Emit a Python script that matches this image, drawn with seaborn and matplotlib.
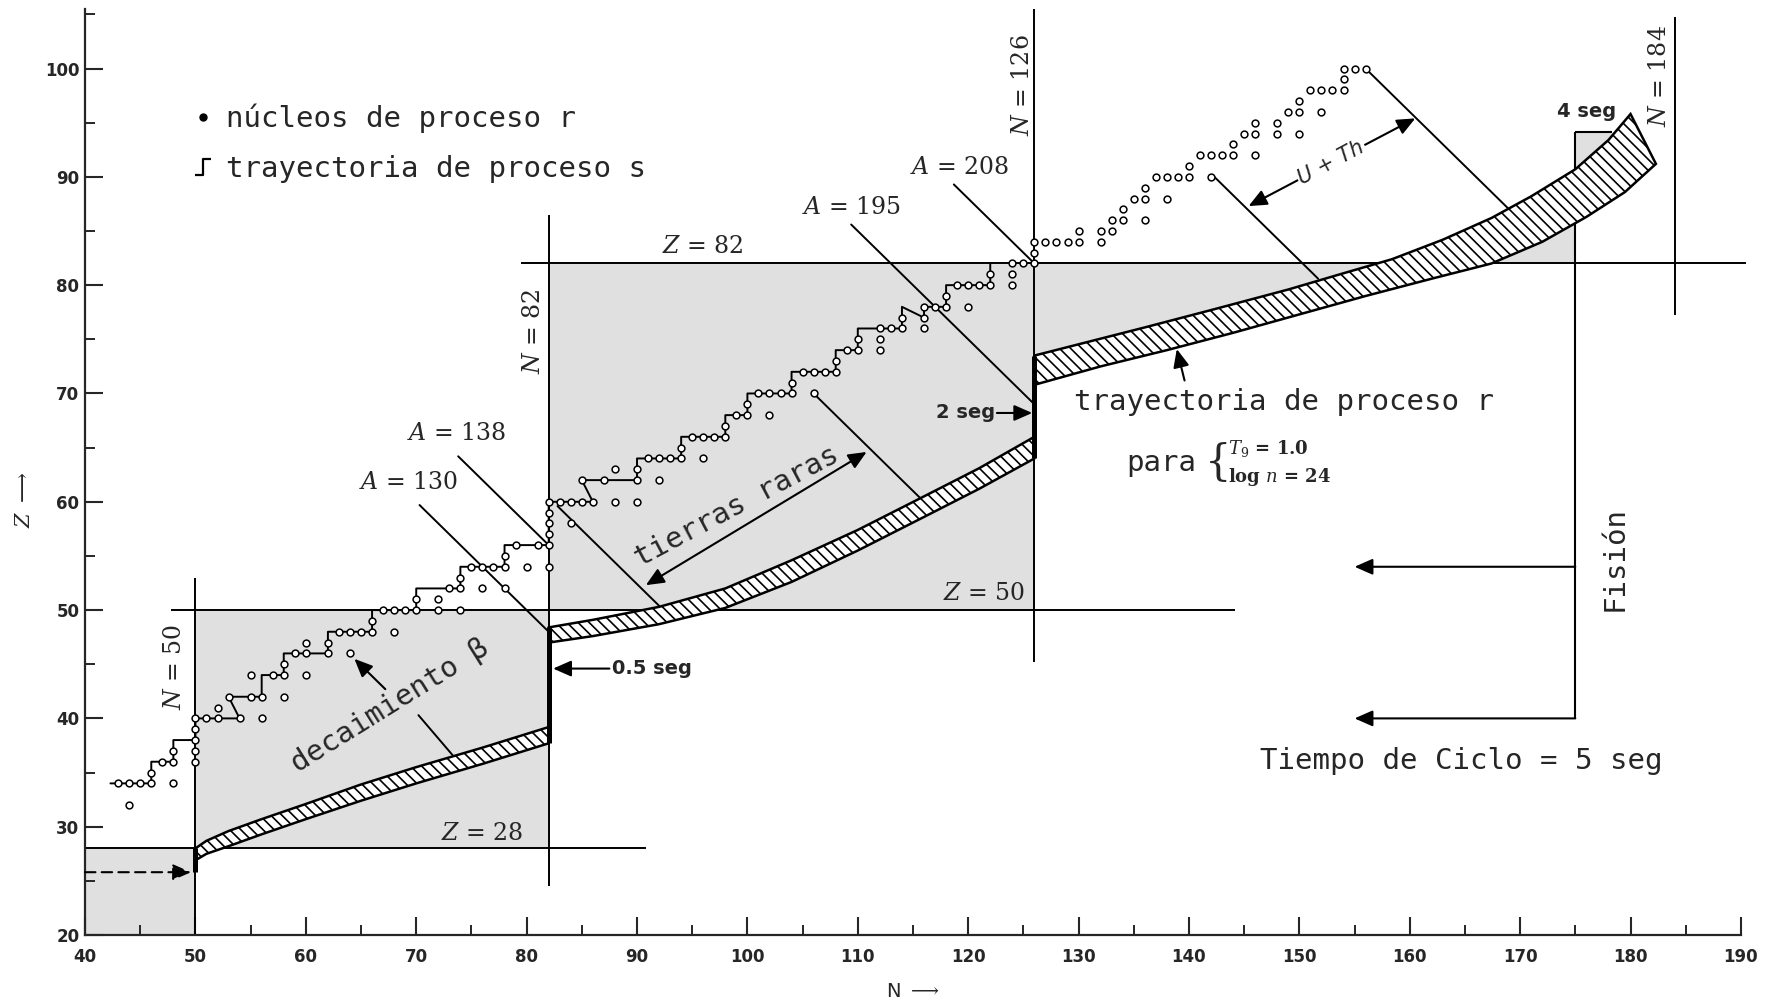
import matplotlib
matplotlib.use("Agg")
import matplotlib.pyplot as plt
from matplotlib.lines import Line2D
from matplotlib.path import Path
import seaborn as sns
import numpy as np

# --- magic-number lines (N, Z) ---
magic_z = [28, 50, 82]
magic_z_from = [40, 47.8, 79.5]
magic_z_to = [90.8, 144.2, 190.5]
magic_n = [50, 82, 126, 184]
magic_n_from = [20, 24.5, 45.2, 77.2]
magic_n_to = [53, 86.5, 105.5, 104.8]

# gray boxes
box_n0 = [40, 50, 82]
box_n1 = [50, 82, 126]
box_z0 = [20, 28, 50]
box_z1 = [28, 50, 82]

# s-process path (vertices) and nuclei on it
s_path_n = [42.3, 46, 46, 48, 48, 50, 50, 54, 53, 56, 56, 58, 58, 62, 62, 66, 66, 70, 70, 74,
            74, 78, 78, 82, 82, 86, 85, 90, 90, 94, 94, 98, 98, 100, 100, 104, 104, 108, 108, 110,
            110, 114, 114, 116, 116, 118, 118, 122, 122]
s_path_z = [34, 34, 36, 36, 38, 38, 40, 40, 42, 42, 44, 44, 46, 46, 48, 48, 50, 50, 52, 52,
            54, 54, 56, 56, 60, 60, 62, 62, 64, 64, 66, 66, 68, 68, 70, 70, 72, 72, 74, 74,
            76, 76, 78, 77, 78, 78, 80, 80, 82]
s_node_n = [43, 44, 45, 46, 46, 47, 48, 48, 50, 50, 50, 51, 52, 54, 53, 55, 56, 57, 58, 58,
            59, 60, 62, 62, 63, 64, 65, 66, 66, 67, 68, 69, 70, 70, 73, 74, 74, 75, 76, 77,
            78, 78, 79, 81, 82, 82, 82, 82, 82, 83, 84, 85, 86, 85, 87, 90, 90, 91, 92, 93,
            94, 94, 95, 96, 97, 98, 98, 99, 100, 100, 101, 102, 103, 104, 104, 105, 106, 107, 108, 108,
            109, 110, 110, 112, 113, 114, 114, 116, 116, 117, 118, 118, 119, 120, 121, 122, 122]
s_node_z = [34, 34, 34, 34, 35, 36, 36, 37, 38, 39, 40, 40, 40, 40, 42, 42, 42, 44, 44, 45,
            46, 46, 46, 47, 48, 48, 48, 48, 49, 50, 50, 50, 50, 51, 52, 52, 53, 54, 54, 54,
            54, 55, 56, 56, 56, 57, 58, 59, 60, 60, 60, 60, 60, 62, 62, 62, 63, 64, 64, 64,
            64, 65, 66, 66, 66, 66, 67, 68, 68, 69, 70, 70, 70, 70, 71, 72, 72, 72, 72, 73,
            74, 74, 75, 76, 76, 76, 77, 77, 78, 78, 78, 79, 80, 80, 80, 80, 81]

# r-process nuclei
r_n = [44, 48, 50, 50, 52, 56, 55, 58, 60, 60, 64, 68, 72, 72, 74, 76, 78, 80, 82, 84,
       88, 88, 90, 92, 96, 102, 106, 112, 112, 116, 120, 124, 124, 124, 125, 126, 126,
       126, 127, 128, 129, 130, 130, 132, 132, 133, 133, 134, 134, 135, 136, 136, 136, 137, 138,
       139, 140, 140, 138, 141, 142, 143, 144, 144, 145, 146, 146, 146, 148, 148, 149, 150, 150,
       150, 152, 151, 152, 153, 154, 154, 154, 155, 156, 142]
r_z = [32, 34, 36, 37, 41, 40, 44, 42, 44, 47, 46, 48, 50, 51, 50, 52, 52, 54, 54, 58,
       60, 63, 60, 62, 64, 68, 70, 74, 75, 76, 78, 80, 81, 82, 82, 82, 83,
       84, 84, 84, 84, 84, 85, 84, 85, 85, 86, 86, 87, 88, 88, 89, 86, 90, 90,
       90, 90, 91, 88, 92, 92, 92, 92, 93, 94, 94, 95, 92, 95, 94, 96, 96, 97,
       94, 96, 98, 98, 98, 98, 99, 100, 100, 100, 90]

# r-process path bands (upper / lower edges)
band1_n = [50, 51, 53, 56, 60, 65, 70, 76, 82]
band1_top = [28.0, 28.7, 29.6, 30.7, 32.1, 33.9, 35.5, 37.3, 39.2]
band1_bot = [26.9, 27.5, 28.2, 29.3, 30.7, 32.4, 34.0, 35.8, 37.7]
band2_n = [82, 86, 92, 98, 104, 110, 116, 121, 126]
band2_top = [48.4, 49.1, 50.3, 52.0, 54.6, 57.4, 60.5, 63.1, 66.0]
band2_bot = [47.0, 47.6, 48.7, 50.2, 52.6, 55.5, 58.6, 61.2, 64.0]
band3_top_n = [126, 131, 136, 142, 149, 154, 158.4, 163, 167.4, 171, 175, 178, 180]
band3_top = [73.5, 74.8, 76.1, 77.7, 79.6, 81.1, 82.4, 84.2, 86.2, 88.2, 90.7, 93.4, 95.8]
band3_bot_n = [126, 132, 138, 144, 150, 156, 162, 167.4, 172, 176, 179.5, 182.3]
band3_bot = [70.8, 72.5, 74.0, 75.6, 77.3, 79.0, 80.6, 82.0, 84.0, 86.3, 88.6, 91.2]

# waiting-point jumps
conn_n = [50, 82, 126]
conn_z0 = [25.8, 37.7, 64.0]
conn_z1 = [28.0, 48.4, 73.5]

# constant-A leader lines
lead_a = [130, 138, 195, 208, 142.4, 176, 232.3, 256]
lead_n0 = [70.3, 73.8, 109.4, 118.7, 82.8, 106, 142.2, 156]
lead_n1 = [82, 82, 126, 126, 92, 115.7, 151.7, 169.2]

# fission cycle
fis_n = 175
fis_z0, fis_z1 = 40, 94.1
fis_box_n = 178.3
fis_arrow_z = [54, 40]
fis_arrow_to = 155

sns.set_style("ticks")
plt.rcParams['font.family'] = ['DejaVu Sans']
plt.rcParams['mathtext.fontset'] = 'dejavuserif'
plt.rcParams['hatch.linewidth'] = 1.2

GRAY = '#e0e0e0'
MONO = 'DejaVu Sans Mono'
SERIF = 'DejaVu Serif'
HATCH = '\\\\\\'

fig = plt.figure(figsize=(17.83, 10.08), dpi=100)
ax = fig.add_axes([0.0477, 0.0724, 0.9287, 0.9187])
ax.set_xlim(40, 190)
ax.set_ylim(20, 105.5)

# gray regions
for n0, n1, z0, z1 in zip(box_n0, box_n1, box_z0, box_z1):
    ax.fill_between([n0, n1], z0, z1, color=GRAY, lw=0, zorder=0)
nn = np.linspace(126, fis_n, 400)
top_i = np.interp(nn, band3_top_n, band3_top)
bot_i = np.interp(nn, band3_bot_n, band3_bot)
ax.fill_between(nn, np.minimum(top_i, 82), np.maximum(bot_i, 82), color=GRAY, lw=0, zorder=0)
nn2 = np.linspace(fis_n, fis_box_n, 60)
top2 = np.interp(nn2, band3_top_n, band3_top)
ax.fill_between(nn2, np.minimum(top2, fis_z1), fis_z1, color=GRAY, lw=0, zorder=0)

# magic lines
ax.hlines(magic_z, magic_z_from, magic_z_to, color='k', lw=1.4, zorder=2, clip_on=False)
ax.vlines(magic_n, magic_n_from, magic_n_to, color='k', lw=1.4, zorder=2, clip_on=False)

# leader lines of constant A
for a, n0, n1 in zip(lead_a, lead_n0, lead_n1):
    ax.plot([n0, n1], [a - n0, a - n1], color='k', lw=1.4, zorder=2)

# r-process bands
def draw_band(tn, tz, bn, bz):
    xs = list(tn) + list(bn)[::-1]
    ys = list(tz) + list(bz)[::-1]
    ax.fill(xs, ys, facecolor='white', edgecolor='black', hatch=HATCH, lw=1.8, zorder=3)

draw_band(band1_n, band1_top, band1_n, band1_bot)
draw_band(band2_n, band2_top, band2_n, band2_bot)
draw_band(band3_top_n, band3_top, band3_bot_n, band3_bot)
ax.vlines(conn_n, conn_z0, conn_z1, color='k', lw=3.6, zorder=4)

# fission cycle
ax.vlines(fis_n, fis_z0, fis_z1, color='k', lw=1.5, zorder=2)
ax.hlines(fis_z1, fis_n, fis_box_n, color='k', lw=1.5, zorder=2)
head = '-|>,head_length=0.5,head_width=0.22'
for z in fis_arrow_z:
    ax.annotate('', xy=(fis_arrow_to, z), xytext=(fis_n, z),
                arrowprops=dict(arrowstyle=head, color='k', lw=1.5, mutation_scale=22,
                                shrinkA=0, shrinkB=0))

# s-process path and nuclei
sns.lineplot(x=s_path_n, y=s_path_z, sort=False, estimator=None, color='k', lw=1.4,
             ax=ax, zorder=5)
sns.scatterplot(x=s_node_n, y=s_node_z, marker='o', s=24, facecolor='white',
                edgecolor='k', linewidth=1.1, ax=ax, zorder=6)
sns.scatterplot(x=r_n, y=r_z, marker='o', s=24, facecolor='white',
                edgecolor='k', linewidth=1.1, ax=ax, zorder=6)

# arrows
def arrow(p0, p1, style=head, ls='-', ms=22):
    ax.annotate('', xy=p1, xytext=p0,
                arrowprops=dict(arrowstyle=style, color='k', lw=1.5, mutation_scale=ms,
                                shrinkA=0, shrinkB=0, linestyle=ls), zorder=7)

arrow((40, 25.8), (49.6, 25.8), ls=(0, (5, 3)))
arrow((87.5, 44.6), (82.4, 44.6))
arrow((122.6, 68.2), (125.8, 68.2))
arrow((67.2, 42.7), (64.4, 45.5))
arrow((139.6, 71.2), (138.9, 74.1))
dbl = '<|-|>,head_length=0.5,head_width=0.22'
arrow((90.8, 52.3), (110.8, 64.6), style=dbl)
arrow((145.4, 87.3), (160.5, 95.4), style=dbl)
ax.plot([70.2, 73.3], [40.3, 36.6], color='k', lw=1.4, zorder=2)

# labels
def serif(n, z, s, rot=0, ha='center', va='center', size=17):
    ax.text(n, z, s, family=SERIF, fontsize=size, rotation=rot, ha=ha, va=va, zorder=8)

serif(76, 28.3, r'$Z$ = 28', va='bottom')
serif(121.4, 50.5, r'$Z$ = 50', va='bottom')
serif(96, 82.5, r'$Z$ = 82', va='bottom')
serif(48.1, 44.8, r'$N$ = 50', rot=90)
serif(80.6, 75.8, r'$N$ = 82', rot=90)
serif(124.9, 98.5, r'$N$ = 126', rot=90)
serif(182.6, 99.3, r'$N$ = 184', rot=90)
serif(119.2, 90.9, r'$A$ = 208')
serif(109.4, 87.2, r'$A$ = 195')
serif(73.6, 66.3, r'$A$ = 138')
serif(69.3, 61.8, r'$A$ = 130')

bold = dict(fontsize=14, fontweight='bold', va='center', zorder=8)
ax.text(122.4, 68.2, '2 seg', ha='right', **bold)
ax.text(87.7, 44.6, '0.5 seg', ha='left', **bold)
ax.text(176, 96.0, '4 seg', ha='center', **bold)

mono = dict(family=MONO, fontsize=21, zorder=8)
ax.text(129.6, 69.2, 'trayectoria de proceso r', ha='left', va='center', **mono)
ax.text(134.3, 63.6, 'para', ha='left', va='center', **mono)
ax.text(141.4, 63.6, '{', ha='left', va='center', family=SERIF, fontsize=30, zorder=8)
ax.text(143.5, 64.9, r'$T_9$ = 1.0', ha='left', va='center', family=SERIF, fontsize=13,
        fontweight='bold', zorder=8)
ax.text(143.5, 62.3, r'log $n$ = 24', ha='left', va='center', family=SERIF, fontsize=13,
        fontweight='bold', zorder=8)
ax.text(146.4, 36.1, 'Tiempo de Ciclo = 5 seg', ha='left', va='center', **mono)
ax.text(178.6, 54.8, 'Fisión', rotation=90, ha='center', va='center', **mono)
ax.text(67.6, 41.2, 'decaimiento β', rotation=32, ha='center', va='center',
        rotation_mode='anchor', **mono)
ax.text(99.0, 59.6, 'tierras raras', rotation=28, ha='center', va='center',
        rotation_mode='anchor', **mono)
ax.text(152.9, 91.3, 'U + Th', rotation=28, ha='center', va='center', style='italic',
        fontsize=15, rotation_mode='anchor', zorder=9,
        bbox=dict(fc='white', ec='none', pad=1))

# legend
step = Path([(-0.5, -0.5), (0, -0.5), (0, 0.5), (0.5, 0.5)],
            [Path.MOVETO, Path.LINETO, Path.LINETO, Path.LINETO])
h1 = Line2D([], [], marker='o', ls='none', color='k', markersize=5)
h2 = Line2D([], [], marker=step, ls='none', markersize=11, markerfacecolor='none',
            markeredgecolor='k', markeredgewidth=1.6)
ax.legend([h1, h2], ['núcleos de proceso r', 'trayectoria de proceso s'],
          loc='upper left', bbox_to_anchor=(0.066, 0.898), frameon=False,
          prop={'family': MONO, 'size': 21}, handlelength=0.6, handletextpad=0.5,
          labelspacing=0.75, borderpad=0, borderaxespad=0)

# axes styling
sns.despine(ax=ax)
ax.spines['left'].set_linewidth(1.6)
ax.spines['bottom'].set_linewidth(1.6)
ax.set_xticks(np.arange(40, 191, 10))
ax.set_xticks(np.arange(45, 190, 10), minor=True)
ax.set_yticks(np.arange(20, 101, 10))
ax.set_yticks(np.arange(25, 106, 10), minor=True)
ax.tick_params(which='major', direction='in', length=13, width=1.5, labelsize=12)
ax.tick_params(which='minor', direction='in', length=7, width=1.4)
ax.tick_params(axis='x', pad=9)
ax.tick_params(axis='y', pad=4)
for lab in ax.get_xticklabels() + ax.get_yticklabels():
    lab.set_fontweight('bold')
ax.set_xlabel(r'N $\longrightarrow$', fontsize=14, labelpad=12)
ax.set_ylabel(r'$Z$ $\longrightarrow$', fontsize=15)
ax.yaxis.set_label_coords(-0.031, 0.47)

fig.savefig('out.png', dpi=100)
